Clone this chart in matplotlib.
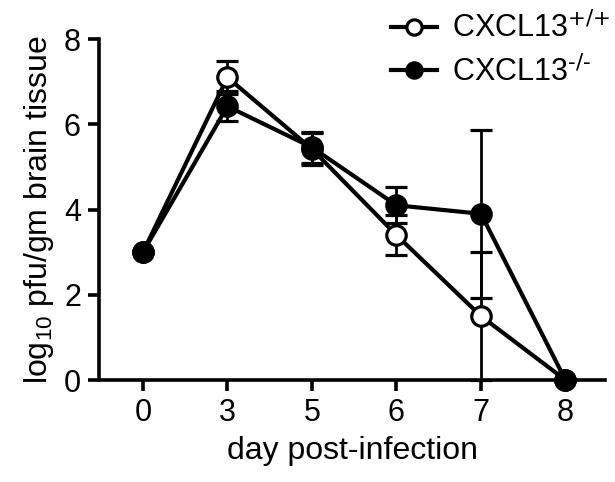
import numpy as np
import matplotlib
matplotlib.use('Agg')
import matplotlib.pyplot as plt
from matplotlib.lines import Line2D

plt.rcParams['font.family'] = ['Liberation Sans', 'DejaVu Sans']
plt.rcParams['mathtext.default'] = 'regular'

# data
days = ['0', '3', '5', '6', '7', '8']
wt_mean = [3.0, 7.1, 5.42, 3.4, 1.5, 0.0]
wt_sem = [0.0, 0.38, 0.37, 0.47, 1.5, 0.0]
ko_mean = [3.0, 6.42, 5.46, 4.1, 3.9, 0.0]
ko_sem = [0.0, 0.35, 0.37, 0.42, 1.97, 0.0]
labels = ['CXCL13$^{\\text{+/+}}$', 'CXCL13$^{\\text{-/-}}$']

x = np.arange(len(days))

fig = plt.figure(figsize=(6.15, 4.82), dpi=100)
ax = fig.add_axes([0.161, 0.2116, 0.823, 0.7074])

common = dict(color='black', lw=3.0, markersize=14, markeredgewidth=2.3,
              ecolor='black', elinewidth=2.0, capsize=8, capthick=2.4,
              clip_on=False)
ax.errorbar(x, wt_mean, yerr=wt_sem, marker='o', markerfacecolor='white',
            markeredgecolor='black', zorder=3, **common)
ax.errorbar(x, ko_mean, yerr=ko_sem, marker='o', markerfacecolor='black',
            markeredgecolor='black', zorder=4, **common)

ax.set_xlim(-0.52, 5.47)
ax.set_ylim(0, 8)
ax.set_xticks(x)
ax.set_xticklabels(days)
ax.set_yticks([0, 2, 4, 6, 8])

for s in ['top', 'right']:
    ax.spines[s].set_visible(False)
for s in ['left', 'bottom']:
    ax.spines[s].set_linewidth(2.6)
ax.tick_params(width=2.6, length=8, labelsize=22, direction='out', pad=5)

ax.set_xlabel('day post-infection', fontsize=23, labelpad=6)
ax.set_ylabel('log$_{10}$ pfu/gm brain tissue', fontsize=23, labelpad=6)

handles = [Line2D([], [], color='black', lw=3.0, marker='o', markersize=11,
                  markeredgewidth=2.3, markerfacecolor='white'),
           Line2D([], [], color='black', lw=3.0, marker='o', markersize=11,
                  markeredgewidth=2.3, markerfacecolor='black')]
ax.legend(handles, labels, loc='upper right', bbox_to_anchor=(1.012, 1.0),
          bbox_transform=fig.transFigure, frameon=False, fontsize=22,
          handlelength=1.5, handletextpad=0.5, labelspacing=0.35,
          borderaxespad=0.0)

fig.savefig('out.png', dpi=100)
